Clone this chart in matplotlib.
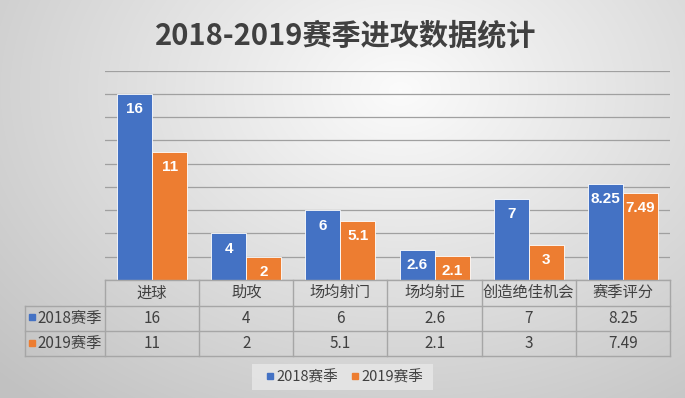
import numpy as np
import matplotlib.pyplot as plt
from matplotlib.patches import Rectangle

plt.rcParams['font.family'] = ['Noto Sans CJK SC', 'DejaVu Sans']

# data
categories = ['进球', '助攻', '场均射门', '场均射正', '创造绝佳机会', '赛季评分']
series_names = ['2018赛季', '2019赛季']
s2018 = [16, 4, 6, 2.6, 7, 8.25]
s2019 = [11, 2, 5.1, 2.1, 3, 7.49]
labels2018 = ['16', '4', '6', '2.6', '7', '8.25']
labels2019 = ['11', '2', '5.1', '2.1', '3', '7.49']
colors = ['#4472C4', '#ED7D31']

W, H = 685, 398
fig = plt.figure(figsize=(W / 100, H / 100), dpi=100)

# radial gradient background
bg = fig.add_axes([0, 0, 1, 1], zorder=-10)
yy, xx = np.mgrid[0:H, 0:W]
r = np.sqrt(((xx - 400) / 520) ** 2 + ((yy - 90) / 380) ** 2)
shade = np.clip(0.985 - 0.21 * r, 0.76, 0.985)
bg.imshow(np.dstack([shade] * 3), extent=[0, W, H, 0], aspect='auto')
bg.set_xlim(0, W)
bg.set_ylim(H, 0)
bg.axis('off')

def px(x0, y0, x1, y1):
    return [x0 / W, 1 - y1 / H, (x1 - x0) / W, (y1 - y0) / H]

# bar area
ax = fig.add_axes(px(105, 70.7, 670, 280))
ax.patch.set_alpha(0)
x = np.arange(len(categories))
bw = 0.372
b1 = ax.bar(x - bw / 2, s2018, bw, color=colors[0], edgecolor='white', linewidth=0.6, zorder=3)
b2 = ax.bar(x + bw / 2, s2019, bw, color=colors[1], edgecolor='white', linewidth=0.6, zorder=3)
for bars, labs in ((b1, labels2018), (b2, labels2019)):
    for b, lab in zip(bars, labs):
        ax.annotate(lab, (b.get_x() + b.get_width() / 2, b.get_height()),
                    xytext=(0, -6), textcoords='offset points', ha='center', va='top',
                    color='white', fontsize=11, fontweight='bold', family='Liberation Sans', zorder=4)
ax.set_xlim(-0.5, 5.5)
ax.set_ylim(0, 18)
ax.set_yticks(np.arange(0, 19, 2))
ax.yaxis.grid(True, color='#a0a0a0', linewidth=0.9, zorder=0)
ax.tick_params(left=False, bottom=False, labelleft=False, labelbottom=False)
for s in ax.spines.values():
    s.set_visible(False)

fig.text(346 / W, 1 - 35 / H, '2018-2019赛季进攻数据统计', ha='center', va='center',
         fontsize=21, fontweight='bold', color='#404040')

# data table
tab = fig.add_axes([0, 0, 1, 1], zorder=2)
tab.set_xlim(0, W)
tab.set_ylim(H, 0)
tab.axis('off')
tab.patch.set_alpha(0)
x0, x1 = 105, 670
cw = (x1 - x0) / len(categories)
rows = [280, 305.5, 331, 356]
lc = '#a6a6a6'
tab.plot([x0, x1], [rows[0], rows[0]], color=lc, lw=1)
for yv in rows[1:]:
    tab.plot([25, x1], [yv, yv], color=lc, lw=1)
tab.plot([25, 25], [rows[1], rows[3]], color=lc, lw=1)
for i in range(len(categories) + 1):
    tab.plot([x0 + i * cw] * 2, [rows[0], rows[3]], color=lc, lw=1)
tc = '#404040'
for i, c in enumerate(categories):
    cx = x0 + (i + 0.5) * cw
    tab.text(cx, (rows[0] + rows[1]) / 2, c, ha='center', va='center', fontsize=11, color=tc)
    tab.text(cx, (rows[1] + rows[2]) / 2, labels2018[i], ha='center', va='center', fontsize=11, color=tc)
    tab.text(cx, (rows[2] + rows[3]) / 2, labels2019[i], ha='center', va='center', fontsize=11, color=tc)
for j, name in enumerate(series_names):
    cy = (rows[j + 1] + rows[j + 2]) / 2
    tab.add_patch(Rectangle((29, cy - 4), 6, 6, color=colors[j]))
    tab.text(37, cy, name, ha='left', va='center', fontsize=11, color=tc)

# legend
tab.add_patch(Rectangle((252, 364), 181, 26, facecolor='#e8e8e8', edgecolor='none', alpha=0.8))
tab.add_patch(Rectangle((267, 373), 6, 6, color=colors[0]))
tab.text(276, 377, series_names[0], ha='left', va='center', fontsize=10.5, color=tc)
tab.add_patch(Rectangle((352, 373), 6, 6, color=colors[1]))
tab.text(361, 377, series_names[1], ha='left', va='center', fontsize=10.5, color=tc)

fig.savefig('out.png', dpi=100)
